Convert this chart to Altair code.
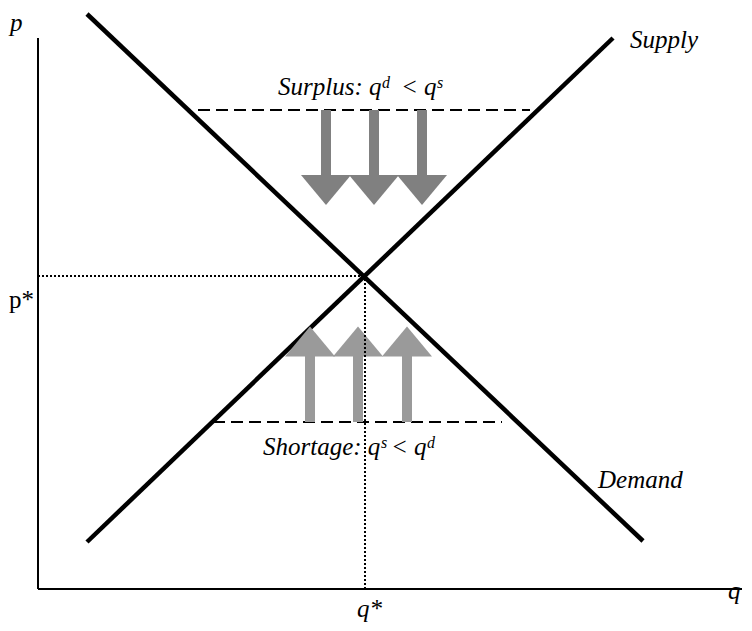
import altair as alt
import pandas as pd

# ---- values (coordinates in the chart's own q/p units) ----
axis_q_max = 704
axis_p_max = 551

supply_q = [49, 575]
supply_p = [47, 551]
demand_q = [49, 605]
demand_p = [575, 48]

q_star = 327
p_star = 313

surplus_p = 479
surplus_q = [160, 492]
shortage_p = 167
shortage_q = [175, 464]

down_arrow_q = [288, 336, 384]
down_shaft_p = [479, 414]
down_tip_p = 384
up_arrow_q = [272, 320, 369]
up_shaft_p = [167, 233]
up_tip_p = 262

# text pieces: (text, q, p, size)
italic_texts = [
    ("Surplus: q", 240, 494, 25),
    ("d", 344, 501, 16),
    ("< q", 363, 494, 25),
    ("s", 399, 501, 16),
    ("Shortage: q", 225, 134, 25),
    ("s", 343, 141, 16),
    ("< q", 353, 134, 25),
    ("d", 389, 141, 16),
    ("Supply", 592, 541, 25),
    ("Demand", 560, 101, 25),
    ("p", -28, 558, 25),
    ("q*", 319, -28, 25),
    ("q", 690, -10, 25),
]
normal_texts = [
    ("p*", -29, 281, 25),
]

X_DOM = [-30, 706]
Y_DOM = [-34, 581]


def X(f="x"):
    return alt.X(f"{f}:Q", scale=alt.Scale(domain=X_DOM, nice=False, zero=False), axis=None)


def Y(f="y"):
    return alt.Y(f"{f}:Q", scale=alt.Scale(domain=Y_DOM, nice=False, zero=False), axis=None)


# axes
axes_df = pd.DataFrame({
    "x": [0, 0], "y": [0, 0], "x2": [0, axis_q_max], "y2": [axis_p_max, 0]
})
axes = alt.Chart(axes_df).mark_rule(color="black", strokeWidth=2).encode(
    x=X(), y=Y(), x2="x2:Q", y2="y2:Q"
)

# supply & demand
sd_df = pd.DataFrame({
    "x": [supply_q[0], demand_q[0]], "y": [supply_p[0], demand_p[0]],
    "x2": [supply_q[1], demand_q[1]], "y2": [supply_p[1], demand_p[1]],
})
sd = alt.Chart(sd_df).mark_rule(color="black", strokeWidth=4.5, strokeCap="butt").encode(
    x=X(), y=Y(), x2="x2:Q", y2="y2:Q"
)

# dashed surplus / shortage lines
dash_df = pd.DataFrame({
    "x": [surplus_q[0], shortage_q[0]], "x2": [surplus_q[1], shortage_q[1]],
    "y": [surplus_p, shortage_p], "y2": [surplus_p, shortage_p],
})
dashed = alt.Chart(dash_df).mark_rule(color="black", strokeWidth=2, strokeDash=[12, 6]).encode(
    x=X(), y=Y(), x2="x2:Q", y2="y2:Q"
)

# arrow shafts
down_shaft_df = pd.DataFrame({
    "x": down_arrow_q,
    "y": [down_shaft_p[0]] * 3,
    "y2": [down_shaft_p[1]] * 3,
})
up_shaft_df = pd.DataFrame({
    "x": up_arrow_q,
    "y": [up_shaft_p[0]] * 3,
    "y2": [up_shaft_p[1]] * 3,
})
down_shafts = alt.Chart(down_shaft_df).mark_rule(color="#808080", strokeWidth=10, strokeCap="butt").encode(
    x=X(), y=Y(), y2="y2:Q"
)
up_shafts = alt.Chart(up_shaft_df).mark_rule(color="#9a9a9a", strokeWidth=10, strokeCap="butt").encode(
    x=X(), y=Y(), y2="y2:Q"
)

# arrow heads: triangles 50 wide, 30 tall, centred between base and tip
down_head_df = pd.DataFrame({
    "x": down_arrow_q,
    "y": [(down_shaft_p[1] + down_tip_p) / 2] * 3,
})
up_head_df = pd.DataFrame({
    "x": up_arrow_q,
    "y": [(up_shaft_p[1] + up_tip_p) / 2] * 3,
})
down_heads = alt.Chart(down_head_df).mark_point(
    shape="M-1,-0.6L1,-0.6L0,0.6Z", size=2500, filled=True, fill="#808080",
    color="#808080", strokeWidth=0, opacity=1
).encode(x=X(), y=Y())
up_heads = alt.Chart(up_head_df).mark_point(
    shape="M-1,0.6L1,0.6L0,-0.6Z", size=2500, filled=True, fill="#9a9a9a",
    color="#9a9a9a", strokeWidth=0, opacity=1
).encode(x=X(), y=Y())

# dotted equilibrium lines
dot_df = pd.DataFrame({
    "x": [0, q_star], "y": [p_star, 0], "x2": [q_star, q_star], "y2": [p_star, p_star]
})
dotted = alt.Chart(dot_df).mark_rule(color="black", strokeWidth=2, strokeDash=[2, 2]).encode(
    x=X(), y=Y(), x2="x2:Q", y2="y2:Q"
)

# texts
it_df = pd.DataFrame(italic_texts, columns=["text", "x", "y", "size"])
no_df = pd.DataFrame(normal_texts, columns=["text", "x", "y", "size"])
it_text = alt.Chart(it_df).mark_text(
    font="Liberation Serif", fontStyle="italic", align="left", baseline="alphabetic", color="black"
).encode(x=X(), y=Y(), text="text:N", size=alt.Size("size:Q", scale=None, legend=None))
no_text = alt.Chart(no_df).mark_text(
    font="Liberation Serif", align="left", baseline="alphabetic", color="black"
).encode(x=X(), y=Y(), text="text:N", size=alt.Size("size:Q", scale=None, legend=None))

chart = alt.layer(
    axes, sd, dashed, down_shafts, up_shafts, down_heads, up_heads, dotted, it_text, no_text
).resolve_scale(size="independent").properties(
    width=736, height=615, autosize=alt.AutoSizeParams(type="none"), padding=0
).configure_view(stroke=None)

chart.save("out.html", embed_options={"renderer": "svg", "actions": False})
